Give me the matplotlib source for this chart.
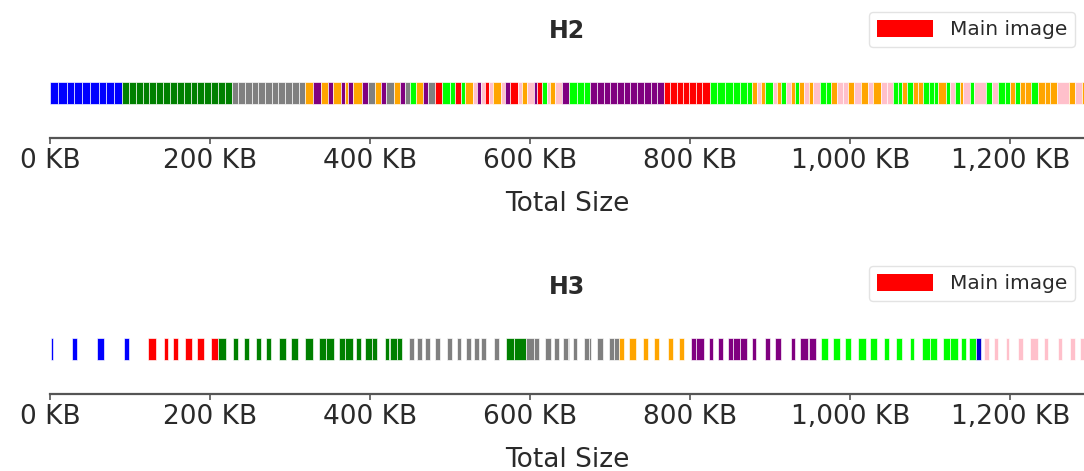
import matplotlib
matplotlib.use("Agg")
import matplotlib.pyplot as plt
from matplotlib.patches import Patch
from matplotlib.ticker import FuncFormatter

# ---------------- data (sizes in KB, drawn in order) ----------------
# type codes: b=blue g=green a=grey o=orange p=purple l=lime r=red (main image)
#             k=pink n=dark blue  _=empty gap
h2_types = ("b" * 9 + "g" * 16 + "a" * 11
            + "opopopopopaopaopaloparllrlokpkrkokprkokprlkokp"
            + "lll" + "p" * 11 + "r" * 7 + "l" * 6
            + "okolkolkolokok" + "ll" + "o" + "kk" + "okokok" + "k"
            + "ll" + "ol" + "oo" + "lll" + "ol" + "kloklklk" + "ll" + "ol"
            + "oo" + "l" + "ooo" + "kok" + "ooo")
h2_sizes = ([10, 11, 9, 10, 10, 11, 9, 10, 10]
            + [9, 8, 9, 8, 9, 8, 9, 9, 8, 9, 8, 9, 8, 9, 9, 8]
            + [8, 9, 8, 8, 9, 8, 8, 9, 8, 9, 8]
            + [9, 10, 9, 7, 9, 5, 4, 7, 11, 7, 9, 7, 7, 10, 7, 6, 7, 7, 9, 6,
               9, 9, 10, 6, 7, 6, 9, 6, 4, 5, 5, 5, 11, 5, 6, 10, 5, 6, 9, 4,
               6, 6, 4, 6, 9]
            + [9, 9, 9] + [8, 9, 8, 8, 9, 8, 8, 9, 8, 9, 8] + [8] * 7
            + [10, 9, 9, 10, 9, 9]
            + [6, 6, 5, 6, 9, 5, 6, 6, 6, 5, 5, 6, 6, 6] + [8, 8] + [6] + [7, 8]
            + [6, 7, 9, 9, 6, 10] + [8, 7] + [6, 6] + [6, 7] + [7, 6, 7] + [6, 5]
            + [10, 6, 6, 6, 4, 9, 4, 15] + [8, 7] + [9, 7] + [6, 6] + [6]
            + [8, 8, 9] + [6, 9, 15] + [8, 8, 8])

h3_types = ("_b_b_b_b_"
            + "r_r_r_r_r_r"
            + "g_g_g_g_g_g_g_g_gg_gg_g_gg_g_gg_"
            + "a_a_a_a_a_a_a_a_a_a_"
            + "ggaa_a_a_aa_a_aa_a_aa"
            + "o_o_o_o_o_o_"
            + "pp_p_p_ppp_p_p_p_p_p_p_"
            + "l_l_l_l_l_l_l_l_ll_ll_l_l"
            + "n_"
            + "k_k_k_k_k_k_k_k_k")
h3_sizes = ([1, 3, 24, 6, 25, 8, 25, 7, 24]
            + [9, 10, 6, 6, 6, 9, 9, 6, 8, 9, 9]
            + [10, 9, 6, 8, 6, 9, 6, 6, 6, 10, 9, 6, 9, 9, 9, 8, 9, 10, 6, 8, 9,
               4, 6, 6, 8, 7, 9, 6, 1, 8, 7, 9]
            + [6, 4, 6, 4, 6, 6, 6, 9, 6, 6, 6, 6, 6, 4, 6, 3, 6, 10, 6, 9, 10, 15]
            + [10, 6, 8, 7, 4, 6, 5, 6, 1, 6, 5, 8, 6, 3, 8, 7, 8, 6, 6, 6, 6]
            + [9, 9, 6, 8, 6, 11, 6, 8, 6, 9, 6, 10]
            + [6, 6, 6, 6, 6, 6, 9, 9, 6, 5, 12, 6, 6, 8, 12, 5, 6, 10, 2, 8, 6]
            + [9, 6, 9, 6, 8, 9, 9, 6, 8, 9, 6, 9, 8, 9, 6, 10, 9, 9, 8, 9, 9, 4,
               6, 4, 9]
            + [6, 4]
            + [6, 6, 5, 10, 4, 12, 6, 9, 9, 8, 5, 12, 6, 10, 6, 6, 8])

charts = [("H2", h2_types, h2_sizes), ("H3", h3_types, h3_sizes)]
x_ticks = [0, 200, 400, 600, 800, 1000, 1200]
x_max = 1292
legend_label = "Main image"

colors = {"b": "#0000ff", "g": "#008000", "a": "#808080", "o": "#ffa500",
          "p": "#800080", "l": "#00ff00", "r": "#ff0000", "k": "#ffc0cb",
          "n": "#0000cd"}

# ---------------- figure ----------------
W, H = 1084, 471
fig = plt.figure(figsize=(W / 100, H / 100), dpi=100)
text_col = "#2a2a2a"

axes_pos = [(50, 138), (50, 394)]  # (left px, bottom spine px)
legend_tops = [12, 266]
ax_h = 90

for (title, types, sizes), (lx, by), ltop in zip(charts, axes_pos, legend_tops):
    ax = fig.add_axes([lx / W, (H - by) / H, (W - lx) / W, ax_h / H])
    left = 0
    for t, s in zip(types, sizes):
        if t != "_":
            ax.barh(0, s, left=left, height=0.5, color=colors[t],
                    edgecolor="white", linewidth=0.45)
        left += s
    ax.set_xlim(0, x_max)
    ax.set_ylim(-1, 1)
    ax.set_yticks([])
    ax.set_xticks(x_ticks)
    ax.xaxis.set_major_formatter(FuncFormatter(lambda v, p: f"{int(v):,} KB"))
    ax.tick_params(axis="x", labelsize=19, colors="#555555", labelcolor=text_col,
                   length=4, width=1.2)
    for side in ["top", "left", "right"]:
        ax.spines[side].set_visible(False)
    ax.spines["bottom"].set_color("#555555")
    ax.spines["bottom"].set_linewidth(1.6)
    ax.set_xlabel("Total Size", fontsize=19, color=text_col, labelpad=12)
    ax.set_title(title, fontsize=17, fontweight="bold", color=text_col, pad=7)
    fig.legend(handles=[Patch(facecolor="#ff0000", edgecolor="none", label=legend_label)],
               loc="upper right", bbox_to_anchor=(1075 / W, 1 - ltop / H),
               bbox_transform=fig.transFigure, fontsize=14.5, frameon=True,
               handlelength=2.8, handleheight=0.9, borderaxespad=0,
               fancybox=True, edgecolor="#dddddd", labelcolor=text_col)

fig.savefig("out.png", dpi=100)
